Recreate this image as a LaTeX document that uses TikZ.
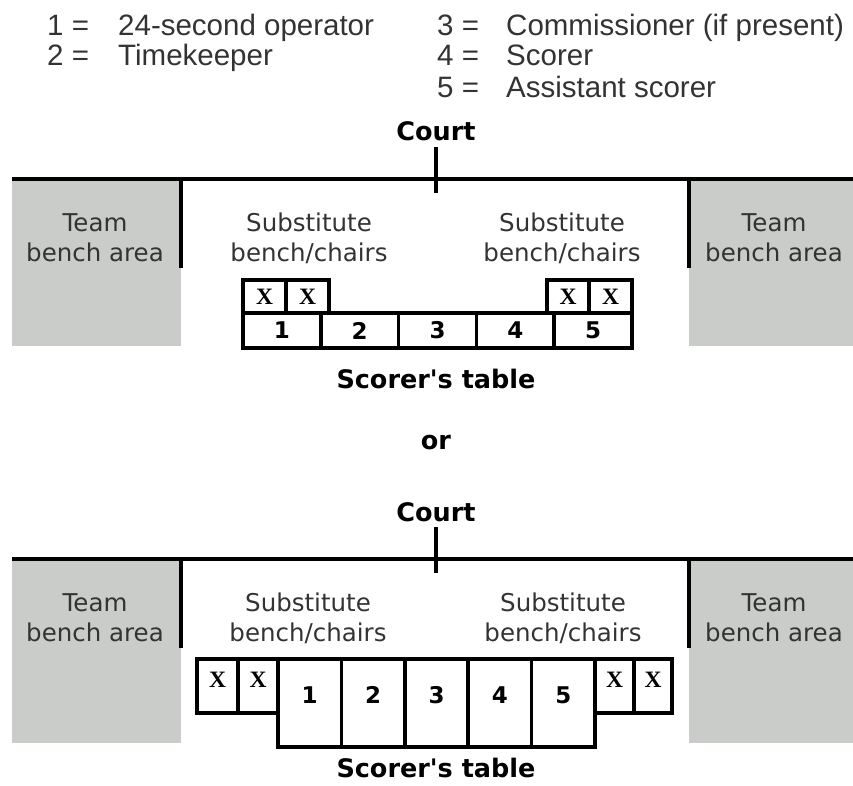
\documentclass[tikz,border=0pt]{standalone}
\usepackage{fontspec}
\setmainfont{DejaVu Sans}[Ligatures=TeXOff]
\newfontfamily\legendfont{Liberation Sans}
\newfontfamily\chairfont{Liberation Serif}[BoldFont={Liberation Serif Bold}]
\usetikzlibrary{positioning}
\definecolor{ink}{HTML}{333333}
\definecolor{bench}{HTML}{C9CCC9}
\tikzset{
  every node/.style={text=ink},
  legend/.style={font=\legendfont\fontsize{29.5}{34}\selectfont,anchor=base west,inner sep=0pt},
  benchtext/.style={font=\fontsize{24.5}{30}\selectfont,align=center,inner sep=0pt},
  heading/.style={font=\bfseries\fontsize{25.5}{30}\selectfont,text=black,inner sep=0pt},
  courtline/.style={line width=3.5pt,draw=black},
  wall/.style={line width=4pt,draw=black},
  benchfill/.style={fill=bench},
  cell/.style={draw=black,line width=3.5pt,fill=white,inner sep=0pt,font=\bfseries\fontsize{23}{26}\selectfont,text=black},
  chair/.style={draw=black,line width=3.5pt,fill=white,inner sep=0pt,font=\chairfont\bfseries\fontsize{23.5}{26}\selectfont,text=black},
  numlabel/.style={inner sep=0pt,font=\bfseries\fontsize{23}{26}\selectfont,text=black},
  xlabel/.style={inner sep=0pt,font=\chairfont\bfseries\fontsize{23.5}{26}\selectfont,text=black},
}

\begin{document}
\begin{tikzpicture}[x=1pt,y=-1pt]
\useasboundingbox (0,0) rectangle (853,785);

\node[legend] (k1) at (47,35) {1 =};
\node[legend] (k1t) at (118,35) {24-second operator};
\node[legend] (k2) at (47,65) {2 =};
\node[legend] (k2t) at (118,65) {Timekeeper};
\node[legend] (k3) at (437,35) {3 =};
\node[legend] (k3t) at (506,35) {Commissioner (if present)};
\node[legend] (k4) at (437,65) {4 =};
\node[legend] (k4t) at (506,65) {Scorer};
\node[legend] (k5) at (437,97) {5 =};
\node[legend] (k5t) at (506,97) {Assistant scorer};

\fill[benchfill] (12,179) rectangle (181,346);
\fill[benchfill] (689,179) rectangle (853,346);
\draw[courtline] (12,179) -- (853,179);
\draw[wall] (436,147) -- (436,193);
\draw[wall] (181,179) -- (181,268);
\draw[wall] (689,179) -- (689,268);
\node[heading] (courtA) at (436,131) {Court};
\node[benchtext] (teamLA) at (95,238) {Team\\bench area};
\node[benchtext] (teamRA) at (774,238) {Team\\bench area};
\node[benchtext] (subLA) at (309,238.5) {Substitute\\bench/chairs};
\node[benchtext] (subRA) at (562,238.5) {Substitute\\bench/chairs};

\node[chair,minimum width=43,minimum height=33] (xA1) at (264.5,296.5) {X};
\node[chair,minimum width=43,minimum height=33] (xA2) at (307.5,296.5) {X};
\node[chair,minimum width=42,minimum height=33] (xA3) at (568,296.5) {X};
\node[chair,minimum width=43,minimum height=33] (xA4) at (610.5,296.5) {X};
\node[cell,minimum width=77.8,minimum height=35] (tA1) at (281.9,330.5) {1};
\node[cell,minimum width=77.8,minimum height=35] (tA2) at (359.7,330.5) {2};
\node[cell,minimum width=77.8,minimum height=35] (tA3) at (437.5,330.5) {3};
\node[cell,minimum width=77.8,minimum height=35] (tA4) at (515.3,330.5) {4};
\node[cell,minimum width=77.8,minimum height=35] (tA5) at (593.1,330.5) {5};
\node[heading] (tableA) at (436,379) {Scorer's table};

\node[heading] (orlabel) at (436,443) {or};

\fill[benchfill] (12,559) rectangle (181,743);
\fill[benchfill] (689,559) rectangle (853,743);
\draw[courtline] (12,559) -- (853,559);
\draw[wall] (436,527) -- (436,573);
\draw[wall] (181,559) -- (181,648);
\draw[wall] (689,559) -- (689,648);
\node[heading] (courtB) at (436,512) {Court};
\node[benchtext] (teamLB) at (95,618) {Team\\bench area};
\node[benchtext] (teamRB) at (774,618) {Team\\bench area};
\node[benchtext] (subLB) at (308,618.5) {Substitute\\bench/chairs};
\node[benchtext] (subRB) at (563,618.5) {Substitute\\bench/chairs};

\node[chair,minimum width=41,minimum height=54] (xB1) at (217.5,686) {};
\node[chair,minimum width=40,minimum height=54] (xB2) at (258,686) {};
\node[chair,minimum width=39,minimum height=54] (xB3) at (614.5,686) {};
\node[chair,minimum width=38,minimum height=54] (xB4) at (653,686) {};
\node[cell,minimum width=63.4,minimum height=88] (tB1) at (309.7,703) {};
\node[cell,minimum width=63.4,minimum height=88] (tB2) at (373.1,703) {};
\node[cell,minimum width=63.4,minimum height=88] (tB3) at (436.5,703) {};
\node[cell,minimum width=63.4,minimum height=88] (tB4) at (499.9,703) {};
\node[cell,minimum width=63.4,minimum height=88] (tB5) at (563.3,703) {};
\node[xlabel] (xlB1) at (217.5,680) {X};
\node[xlabel] (xlB2) at (258,680) {X};
\node[xlabel] (xlB3) at (614.5,680) {X};
\node[xlabel] (xlB4) at (653,680) {X};
\node[numlabel] (nB1) at (309.7,695) {1};
\node[numlabel] (nB2) at (373.1,695) {2};
\node[numlabel] (nB3) at (436.5,695) {3};
\node[numlabel] (nB4) at (499.9,695) {4};
\node[numlabel] (nB5) at (563.3,695) {5};
\node[heading] (tableB) at (436,768) {Scorer's table};

\end{tikzpicture}
\end{document}
